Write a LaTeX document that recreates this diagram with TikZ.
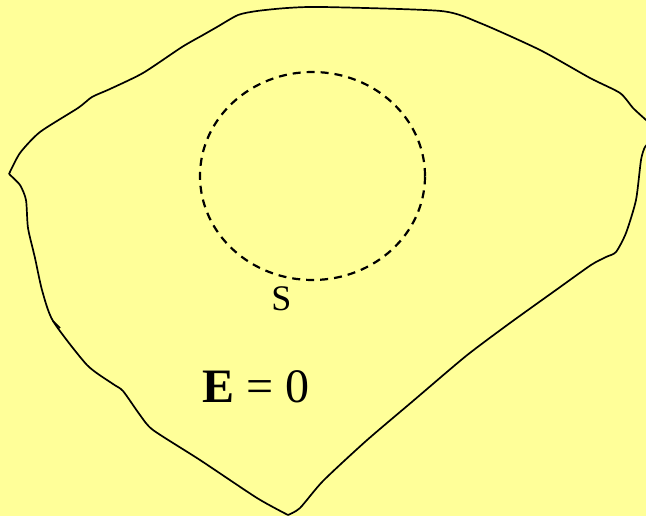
\documentclass[tikz,border=0pt]{standalone}
\usepackage{fontspec}
\setmainfont{Liberation Serif}
\usetikzlibrary{shapes.geometric,positioning}
\definecolor{paleyellow}{RGB}{255,255,153}

\begin{document}
\begin{tikzpicture}[
    x=1pt, y=-1pt,
    outline/.style={line width=1.7pt, line join=round},
    surface/.style={
        ellipse,
        draw,
        dash pattern=on 8pt off 6pt,
        line width=2.2pt,
        minimum width=225pt,
        minimum height=208pt,
        inner sep=0pt
      },
    label/.style={font=\fontsize{36}{38}\selectfont, inner sep=0pt}
    ]

    \fill[paleyellow] (0,0) rectangle (646,516);
    \useasboundingbox (0,0) rectangle (646,516);
    \clip (0,0) rectangle (646,516);

    % conductor outline
    \draw[outline] plot[smooth, tension=0.4] coordinates {
        (9,174) (20,153) (40,132) (78,108) (92,97) (110,89) (143,73)
        (182,47) (203,35) (217,27) (238,15) (257,11) (287,8) (323,7)
        (441,11) (480,23) (540,50) (590,78) (620,93) (633,108) (646,120) (652,126)};
    \draw[outline] plot[smooth, tension=0.4] coordinates {
        (652,140) (645,147) (641,160) (636,200) (626,233) (616,252) (606,257)
        (591,265) (556,290) (510,323) (466,356) (413,401) (366,441)
        (323,481) (300,508) (288,515)};
    \draw[outline] plot[smooth, tension=0.4] coordinates {
        (288,515) (257,498) (200,460) (153,430) (140,415) (123,391)
        (113,384) (87,365) (53,321) (42,290) (35,258) (28,228)
        (26,200) (20,185) (9,174)};
    \draw[outline] (53,321) -- (60,328);

    % gaussian surface
    \node[surface] (gauss) at (312.5,176) {};
    \node[label, below=5pt of gauss.south, xshift=-31pt] (s) {S};
    \node[font=\fontsize{48}{50}\selectfont, inner sep=0pt] (field) at (256,387) {\textbf{E} = 0};

  \end{tikzpicture}
\end{document}
